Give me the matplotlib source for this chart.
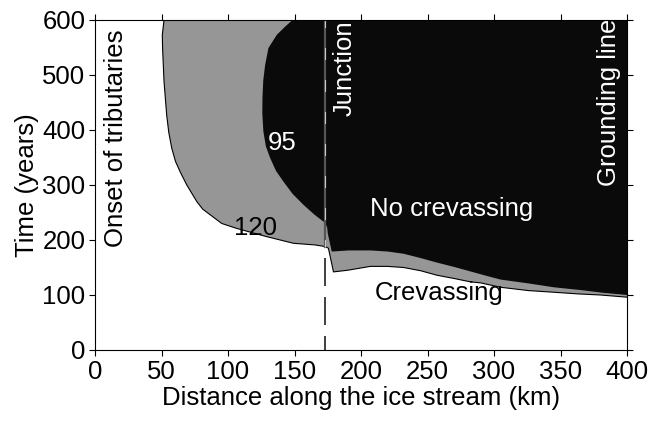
import numpy as np
import matplotlib
matplotlib.use("Agg")
import matplotlib.pyplot as plt

plt.rcParams["font.family"] = ["Liberation Sans", "DejaVu Sans"]

# Contorno 120 (limite da zona cinza), de cima para baixo, até a junção
c120_esq_km = [51.9, 50.6, 50.8, 51.9, 53.9, 55.5, 57.7, 60.5, 64.0, 69.0, 76.5, 81.0, 86.5, 95.3, 106.6, 129.2, 149.2, 165.5, 173.1, 175.5]
c120_esq_yr = [600, 573, 549, 488, 427, 395, 367, 343, 324, 300, 270, 256, 246, 230, 221, 206, 194, 191, 188, 185]
# Contorno 120 depois da junção
c120_dir_km = [179.3, 190, 207, 220, 232, 245, 257, 270, 282, 290, 305, 326, 345, 363, 380, 400]
c120_dir_yr = [142, 145, 152, 152, 150, 144, 136, 130, 124, 122, 114, 108, 105, 102, 100, 96]

# Contorno 95 (limite da zona preta)
c95_esq_km = [148.5, 143.0, 136.7, 130.4, 127.9, 126.5, 125.9, 125.8, 126.6, 128.5, 131.7, 136.0, 141.7, 148.5, 156.7, 165.0, 173.1, 174.6, 175.0]
c95_esq_yr = [600, 588, 573, 549, 518, 490, 458, 430, 397, 370, 349, 326, 306, 284, 264, 246, 231, 222, 212]
c95_dir_km = [178.0, 191, 207, 220, 232, 245, 257, 270, 282, 294, 305, 326, 345, 365, 382, 400]
c95_dir_yr = [179, 181, 181, 179, 175, 167, 159, 151, 143, 135, 128, 121, 114, 109, 104, 100]

juncao_km = 173
juncao_topo_solido = 188
juncao_inicio_traco = 167

x_ticks = np.arange(0, 401, 50)
y_ticks = np.arange(0, 601, 100)

fig = plt.figure(figsize=(6.63, 4.25), dpi=100)
ax = fig.add_axes([0.1433, 0.1765, 0.8024, 0.7765])

# Zona cinza (contorno 120)
gx = c120_esq_km + c120_dir_km + [400, 400]
gy = c120_esq_yr + c120_dir_yr + [600, 600]
ax.fill(gx, gy, color="#969696", lw=0, zorder=1)
ax.plot(c120_esq_km + c120_dir_km, c120_esq_yr + c120_dir_yr, color="black", lw=0.8, zorder=2)

# Zona preta (contorno 95)
bx = c95_esq_km + c95_dir_km + [400]
by = c95_esq_yr + c95_dir_yr + [600]
ax.fill(bx, by, color="#0a0a0a", lw=0, zorder=3)

# Linha da junção
ax.plot([juncao_km, juncao_km], [juncao_topo_solido, 600], color="#555555", lw=1.6, zorder=4)
ax.plot([juncao_km + 0.3, juncao_km + 0.3], [600, juncao_topo_solido], color="#c8c8c8", lw=0.8,
        linestyle=(4, (10.8, 18)), zorder=5)
ax.plot([juncao_km, juncao_km], [juncao_inicio_traco, 0], color="#444444", lw=1.44,
        linestyle=(0, (14, 5.5)), zorder=4, clip_on=False)

fs = 18.5
ax.text(16, 385, "Onset of tributaries", rotation=90, ha="center", va="center", fontsize=fs, zorder=6)
ax.text(188, 513, "Junction", rotation=90, ha="center", va="center", fontsize=fs, color="white", zorder=6)
ax.text(386.8, 450, "Grounding line", rotation=90, ha="center", va="center", fontsize=fs, color="white", zorder=6)
ax.text(140.7, 376, "95", ha="center", va="center", fontsize=fs, color="white", zorder=6)
ax.text(120.4, 222, "120", ha="center", va="center", fontsize=fs, color="black", zorder=6)
ax.text(268, 256, "No crevassing", ha="center", va="center", fontsize=fs, color="white", zorder=6)
ax.text(258.5, 104, "Crevassing", ha="center", va="center", fontsize=fs, color="black", zorder=6)

ax.set_xlim(0, 400)
ax.set_ylim(0, 600)
ax.set_xticks(x_ticks)
ax.set_yticks(y_ticks)
ax.tick_params(direction="out", length=4, width=0.8, labelsize=fs, top=True, right=True, pad=3)
ax.set_xlabel("Distance along the ice stream (km)", fontsize=fs, labelpad=2)
ax.set_ylabel("Time (years)", fontsize=fs, labelpad=2)
for s in ax.spines.values():
    s.set_linewidth(0.8)
    s.set_zorder(7)

fig.savefig("out.png", dpi=100)
